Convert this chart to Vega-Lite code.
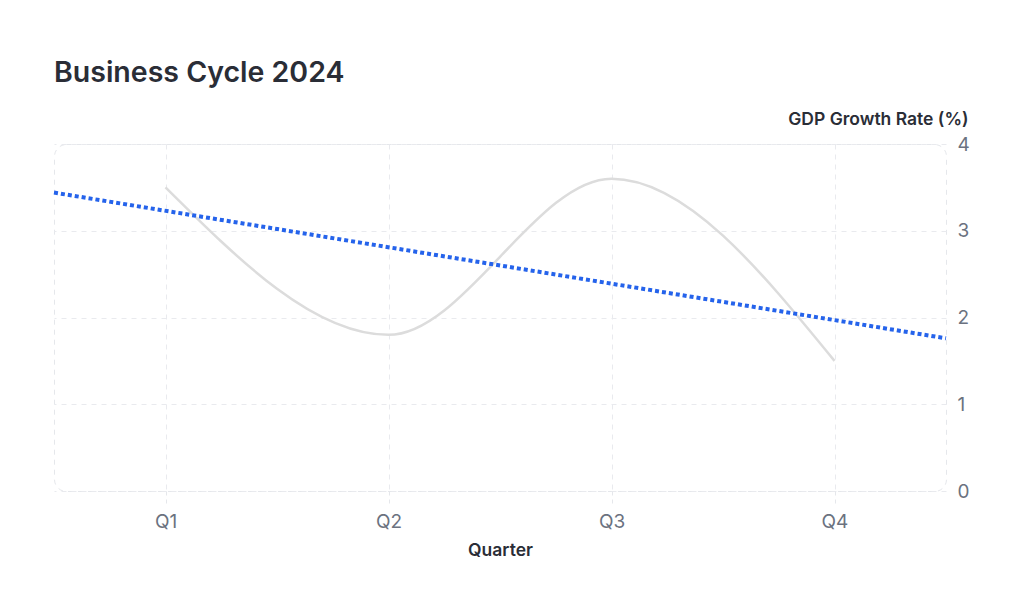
{
  "$schema": "https://vega.github.io/schema/vega-lite/v6.json",
  "width": 892,
  "height": 347,
  "autosize": {"type": "none"},
  "padding": {"left": 54, "top": 144, "right": 78, "bottom": 120},
  "background": "#ffffff",
  "title": {
    "text": "Business Cycle 2024",
    "anchor": "start",
    "frame": "group",
    "font": "Inter",
    "fontSize": 28.5,
    "fontWeight": 600,
    "color": "#2a2d36",
    "baseline": "alphabetic",
    "offset": 0
  },
  "data": {
    "values": [
      {"quarter": "Q1", "q": 1, "gdp": 3.5},
      {"quarter": "Q2", "q": 2, "gdp": 1.8},
      {"quarter": "Q3", "q": 3, "gdp": 3.6},
      {"quarter": "Q4", "q": 4, "gdp": 1.5}
    ]
  },
  "encoding": {
    "x": {
      "field": "q",
      "type": "quantitative",
      "scale": {"domain": [0.5, 4.5], "nice": false, "zero": false},
      "axis": {
        "title": "Quarter",
        "values": [1, 2, 3, 4],
        "labelExpr": "'Q' + datum.value",
        "domain": false,
        "ticks": true,
        "tickSize": 12,
        "tickColor": "#e5e7eb",
        "tickDash": [4, 4],
        "labelPadding": 9,
        "labelFont": "Inter",
        "labelFontSize": 19,
        "labelColor": "#6b7280",
        "titleFont": "Inter",
        "titleFontSize": 17.5,
        "titleFontWeight": 600,
        "titleColor": "#2a2d36",
        "titlePadding": 10,
        "grid": true,
        "gridColor": "#e9eaee",
        "gridDash": [5, 5]
      }
    },
    "y": {
      "field": "gdp",
      "type": "quantitative",
      "scale": {"domain": [0, 4], "nice": false},
      "axis": {
        "orient": "right",
        "title": "GDP Growth Rate (%)",
        "titleAngle": 0,
        "titleAlign": "right",
        "titleBaseline": "alphabetic",
        "titleX": 22,
        "titleY": -20,
        "values": [0, 1, 2, 3, 4],
        "domain": false,
        "ticks": false,
        "tickSize": 0,
        "labelPadding": 11,
        "labelFont": "Inter",
        "labelFontSize": 19,
        "labelColor": "#6b7280",
        "titleFont": "Inter",
        "titleFontSize": 17.5,
        "titleFontWeight": 600,
        "titleColor": "#2a2d36",
        "grid": true,
        "gridColor": "#e9eaee",
        "gridDash": [5, 5]
      }
    }
  },
  "layer": [
    {
      "mark": {"type": "line", "interpolate": "monotone", "color": "#dcdcdc", "strokeWidth": 2.5},
      "encoding": {}
    },
    {
      "transform": [{"regression": "gdp", "on": "q", "extent": [0.5, 4.5]}],
      "mark": {"type": "line", "color": "#2563eb", "strokeWidth": 4, "strokeDash": [4, 3]},
      "encoding": {}
    }
  ],
  "config": {
    "view": {"stroke": "#e5e7eb", "strokeDash": [5, 5], "cornerRadius": 12, "strokeWidth": 1}
  }
}
